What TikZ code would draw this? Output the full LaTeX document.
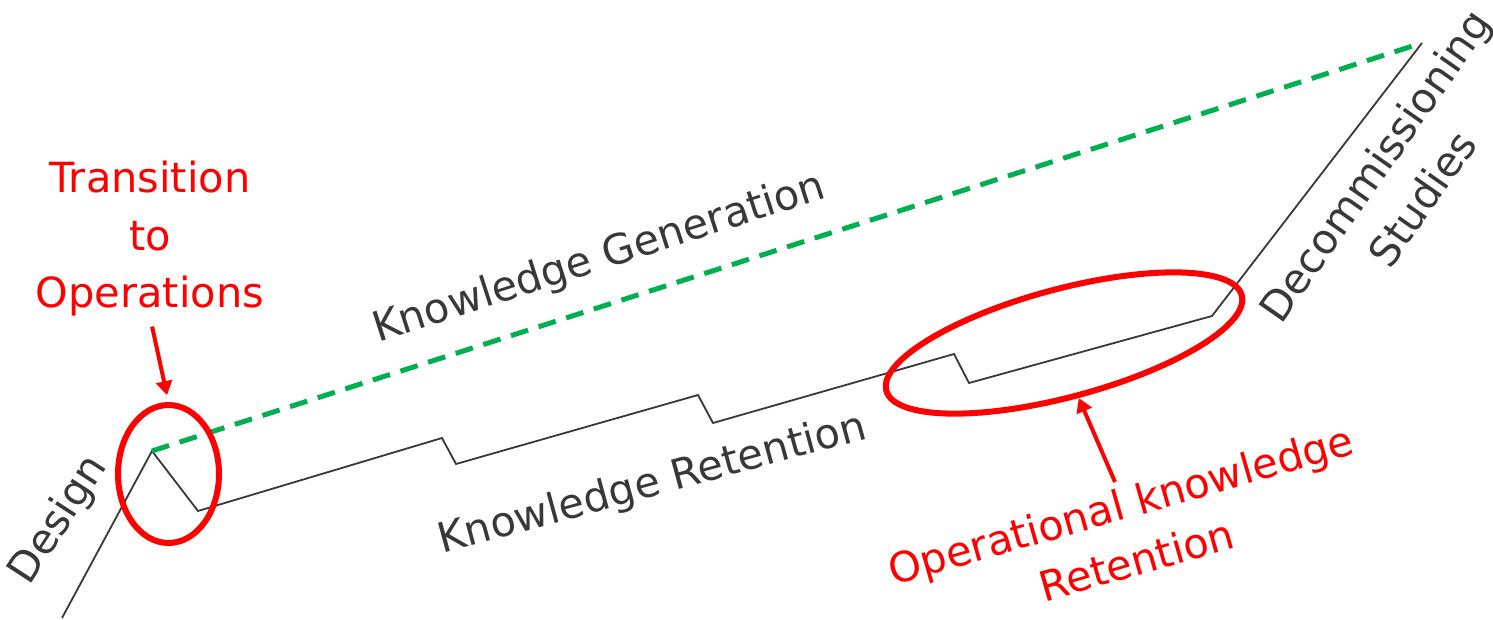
\documentclass[tikz,border=0pt]{standalone}
\usepackage{fontspec}
\setmainfont{DejaVu Sans}
\usetikzlibrary{arrows.meta,shapes.geometric}
\definecolor{txtgray}{HTML}{383838}
\definecolor{kgreen}{HTML}{00B050}
\definecolor{kred}{HTML}{FF0000}
\begin{document}
\begin{tikzpicture}[x=1pt,y=-1pt,
  lbl/.style={text=txtgray, font=\fontsize{41.5}{57.5}\selectfont, inner sep=0pt, align=center},
  rlbl/.style={text=kred, font=\fontsize{41.5}{57.5}\selectfont, inner sep=0pt, align=center},
  pathline/.style={draw=txtgray, line width=1.8pt, line join=miter},
  genline/.style={draw=kgreen, line width=5pt, dash pattern=on 18pt off 11pt},
  ring/.style={ellipse, draw=kred, line width=6pt, inner sep=0pt},
  callout/.style={draw=kred, line width=4pt, -{Triangle[length=14pt,width=16pt]}}
]
\useasboundingbox (0,0) rectangle (1493,620);
% polyline vertices
\coordinate (p0) at (62,618);
\coordinate (p1) at (152,451);
\coordinate (p2) at (198,511);
\coordinate (p3) at (442,438);
\coordinate (p4) at (456,464);
\coordinate (p5) at (698,395);
\coordinate (p6) at (713,423);
\coordinate (p7) at (954,354);
\coordinate (p8) at (969,383);
\coordinate (p9) at (1212,316);
\coordinate (p10) at (1422,43);
\draw[pathline] (p0) -- (p1) -- (p2) -- (p3) -- (p4) -- (p5) -- (p6) -- (p7) -- (p8) -- (p9) -- (p10);
\draw[genline] (p1) -- (p10);
% rings
\node[ring, minimum width=101pt, minimum height=138pt] (ell1) at (168.5,474) {};
\node[ring, minimum width=368pt, minimum height=108pt, rotate=15] (ell2) at (1064,343) {};
% labels
\node[lbl, anchor=base, rotate=57] (design) at (68.9,526.3) {Design};
\node[lbl, anchor=base, rotate=17.9] (kgen) at (603,270) {Knowledge Generation};
\node[lbl, anchor=base, rotate=15.2] (kret) at (655.7,496) {Knowledge Retention};
\node[lbl, rotate=55] (decom) at (1398,182) {Decommissioning\\Studies};
\node[rlbl] (trans) at (150,239) {Transition\\to\\Operations};
\node[rlbl, rotate=16] (opret) at (1128.5,532.3) {Operational knowledge\\Retention};
% callout arrows
\coordinate (a2s) at (1115,482);
\draw[callout, shorten <=10pt, shorten >=7pt] (trans.south) -- (ell1.north);
\draw[callout] (a2s) -- (ell2.south);
\end{tikzpicture}
\end{document}
